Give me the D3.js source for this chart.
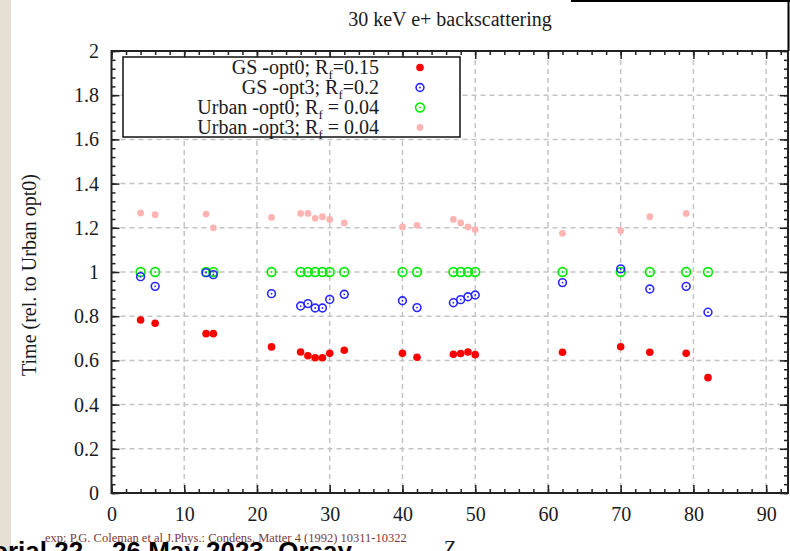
<!DOCTYPE html>
<html><head><meta charset="utf-8">
<script src="https://cdn.jsdelivr.net/npm/d3@7"></script>
<style>
html,body{margin:0;padding:0;background:#fff;}
svg{display:block;}
</style></head>
<body>
<script>
// ---- data ----
const Z = [4, 6, 13, 14, 22, 26, 27, 28, 29, 30, 32, 40, 42, 47, 48, 49, 50, 62, 70, 74, 79, 82];
const gsOpt0 = [0.783, 0.768, 0.721, 0.721, 0.661, 0.638, 0.621, 0.612, 0.612, 0.632, 0.646, 0.632, 0.614, 0.628, 0.631, 0.638, 0.626, 0.637, 0.662, 0.637, 0.632, 0.522];
const gsOpt3 = [0.979, 0.935, 0.997, 0.988, 0.902, 0.846, 0.857, 0.837, 0.837, 0.876, 0.899, 0.870, 0.839, 0.861, 0.875, 0.888, 0.896, 0.952, 1.014, 0.923, 0.935, 0.818];
const urbanOpt0 = [1, 1, 1, 1, 1, 1, 1, 1, 1, 1, 1, 1, 1, 1, 1, 1, 1, 1, 1, 1, 1, 1];
const urbanOpt3 = [1.267, 1.259, 1.262, 1.200, 1.247, 1.265, 1.265, 1.243, 1.250, 1.238, 1.222, 1.204, 1.211, 1.238, 1.222, 1.204, 1.192, 1.175, 1.187, 1.250, 1.265, null];
const xTicks = [0, 10, 20, 30, 40, 50, 60, 70, 80, 90];
const yTicks = [0, 0.2, 0.4, 0.6, 0.8, 1, 1.2, 1.4, 1.6, 1.8, 2];
const legendLabels = [
  ["GS -opt0; R", "f", "=0.15"],
  ["GS -opt3; R", "f", "=0.2"],
  ["Urban -opt0; R", "f", " = 0.04"],
  ["Urban -opt3; R", "f", " = 0.04"]
];
const titleText = "30 keV e+ backscattering";
const xLabel = "Z";
const yLabel = "Time (rel. to Urban opt0)";
const refText = "exp: P.G. Coleman et al J.Phys.: Condens. Matter 4 (1992) 10311-10322";
const slideText = "Geant4 Tutorial 22 \u2013 26 May 2023, Orsay";

// ---- layout ----
const W = 790, H = 551;
const L = 111.5, R = 788, T = 51, B = 493;
const serif = "'Liberation Serif', 'Times New Roman', serif";
const FS = 20;

const svg = d3.select("body").append("svg").attr("width", W).attr("height", H);
svg.append("rect").attr("width", W).attr("height", H).attr("fill", "#fff");
// left beige strip (slide background)
svg.append("rect").attr("x", 0).attr("y", 0).attr("width", 11).attr("height", H).attr("fill", "#e6dfd4");
// top-right slide frame
svg.append("line").attr("x1", 571).attr("x2", W).attr("y1", 1).attr("y2", 1).attr("stroke", "#000").attr("stroke-width", 2);
svg.append("line").attr("x1", 788.5).attr("x2", 788.5).attr("y1", 0).attr("y2", T).attr("stroke", "#000").attr("stroke-width", 2);

const x = d3.scaleLinear().domain([0, 93]).range([L, R]);
const y = d3.scaleLinear().domain([0, 2]).range([B, T]);

// grid
const grid = svg.append("g").attr("stroke", "#c4c4c4").attr("stroke-width", 1.5).attr("stroke-dasharray", "5,4");
grid.selectAll("line.gx").data(xTicks.filter(d => d > 0)).enter().append("line")
  .attr("x1", d => x(d)).attr("x2", d => x(d)).attr("y1", T).attr("y2", B);
grid.selectAll("line.gy").data(yTicks.filter(d => d > 0 && d < 2)).enter().append("line")
  .attr("x1", L).attr("x2", R).attr("y1", d => y(d)).attr("y2", d => y(d));

// axes (inward ticks) using d3 axes
const xMinor = d3.range(0, 93, 2);
const yMinor = d3.range(0, 2.0001, 0.04);
function styleAxis(g) {
  g.select(".domain").remove();
  g.selectAll("line").attr("stroke", "#222").attr("stroke-width", 1.5);
  g.selectAll("text").attr("font-family", serif).attr("font-size", FS).attr("fill", "#1a1a22");
}
// bottom
svg.append("g").attr("transform", `translate(0,${B})`)
  .call(d3.axisBottom(x).tickValues(xMinor).tickSize(-4).tickFormat(""))
  .call(styleAxis);
svg.append("g").attr("transform", `translate(0,${B})`)
  .call(d3.axisBottom(x).tickValues(xTicks).tickSize(-8).tickPadding(14).tickFormat(d3.format("d")))
  .call(styleAxis);
// top
svg.append("g").attr("transform", `translate(0,${T})`)
  .call(d3.axisTop(x).tickValues(xMinor).tickSize(-4).tickFormat(""))
  .call(styleAxis);
svg.append("g").attr("transform", `translate(0,${T})`)
  .call(d3.axisTop(x).tickValues(xTicks).tickSize(-8).tickFormat(""))
  .call(styleAxis);
// left
svg.append("g").attr("transform", `translate(${L},0)`)
  .call(d3.axisLeft(y).tickValues(yMinor).tickSize(-4).tickFormat(""))
  .call(styleAxis);
svg.append("g").attr("transform", `translate(${L},0)`)
  .call(d3.axisLeft(y).tickValues(yTicks).tickSize(-8).tickPadding(12.5).tickFormat(d => String(+d.toFixed(1))))
  .call(styleAxis);
// right
svg.append("g").attr("transform", `translate(${R},0)`)
  .call(d3.axisRight(y).tickValues(yMinor).tickSize(-4).tickFormat(""))
  .call(styleAxis);
svg.append("g").attr("transform", `translate(${R},0)`)
  .call(d3.axisRight(y).tickValues(yTicks).tickSize(-8).tickFormat(""))
  .call(styleAxis);
// frame
svg.append("rect").attr("x", L).attr("y", T).attr("width", R - L).attr("height", B - T)
  .attr("fill", "none").attr("stroke", "#222").attr("stroke-width", 2);

// ---- series ----
const series = [
  { vals: gsOpt0, type: "fill", color: "#ff0000", r: 3.8 },
  { vals: gsOpt3, type: "ring", color: "#2828ff", r: 3.9 },
  { vals: urbanOpt0, type: "ring", color: "#00ee00", r: 4.4 },
  { vals: urbanOpt3, type: "fill", color: "#ffb4b4", r: 3.4 }
];
function drawMarker(g, s, cx, cy) {
  if (s.type === "fill") {
    g.append("circle").attr("cx", cx).attr("cy", cy).attr("r", s.r).attr("fill", s.color);
  } else {
    g.append("circle").attr("cx", cx).attr("cy", cy).attr("r", s.r).attr("fill", "none")
      .attr("stroke", s.color).attr("stroke-width", 1.6);
    g.append("circle").attr("cx", cx).attr("cy", cy).attr("r", 0.9).attr("fill", s.color);
  }
}
// draw order: pink, green, blue, red
[3, 2, 1, 0].forEach(i => {
  const s = series[i];
  const g = svg.append("g");
  Z.forEach((z, k) => {
    if (s.vals[k] == null) return;
    drawMarker(g, s, x(z), y(s.vals[k]));
  });
});

// ---- legend ----
const lg = svg.append("g");
lg.append("rect").attr("x", 123).attr("y", 57).attr("width", 337).attr("height", 80)
  .attr("fill", "#fff").attr("stroke", "#111").attr("stroke-width", 1.5);
legendLabels.forEach((lab, i) => {
  const cy = 67.5 + i * 20;
  const t = lg.append("text").attr("x", 379).attr("y", cy + 6).attr("text-anchor", "end")
    .attr("font-family", serif).attr("font-size", FS).attr("fill", "#1a1a22");
  t.append("tspan").text(lab[0]);
  t.append("tspan").attr("font-size", 13).attr("dy", 5).text(lab[1]);
  t.append("tspan").attr("dy", -5).text(lab[2]);
  drawMarker(lg, series[i], 420, cy);
});

// ---- texts ----
svg.append("text").attr("x", 450).attr("y", 26).attr("text-anchor", "middle")
  .attr("font-family", serif).attr("font-size", FS).attr("fill", "#1a1a22").text(titleText);
svg.append("text").attr("transform", "translate(36,275) rotate(-90)").attr("text-anchor", "middle")
  .attr("font-family", serif).attr("font-size", FS).attr("fill", "#1a1a22").text(yLabel);
svg.append("text").attr("x", 450).attr("y", 555).attr("text-anchor", "middle")
  .attr("font-family", serif).attr("font-size", FS).attr("fill", "#1a1a22").text(xLabel);
svg.append("text").attr("x", 45).attr("y", 542)
  .attr("font-family", serif).attr("font-size", 12.5).attr("fill", "#7a3a3a").text(refText);
svg.append("text").attr("x", 352).attr("y", 560).attr("text-anchor", "end")
  .attr("font-family", "'Liberation Sans', Arial, sans-serif").attr("font-weight", "bold")
  .attr("font-size", 26).attr("fill", "#000").text(slideText);
</script>
</body></html>
